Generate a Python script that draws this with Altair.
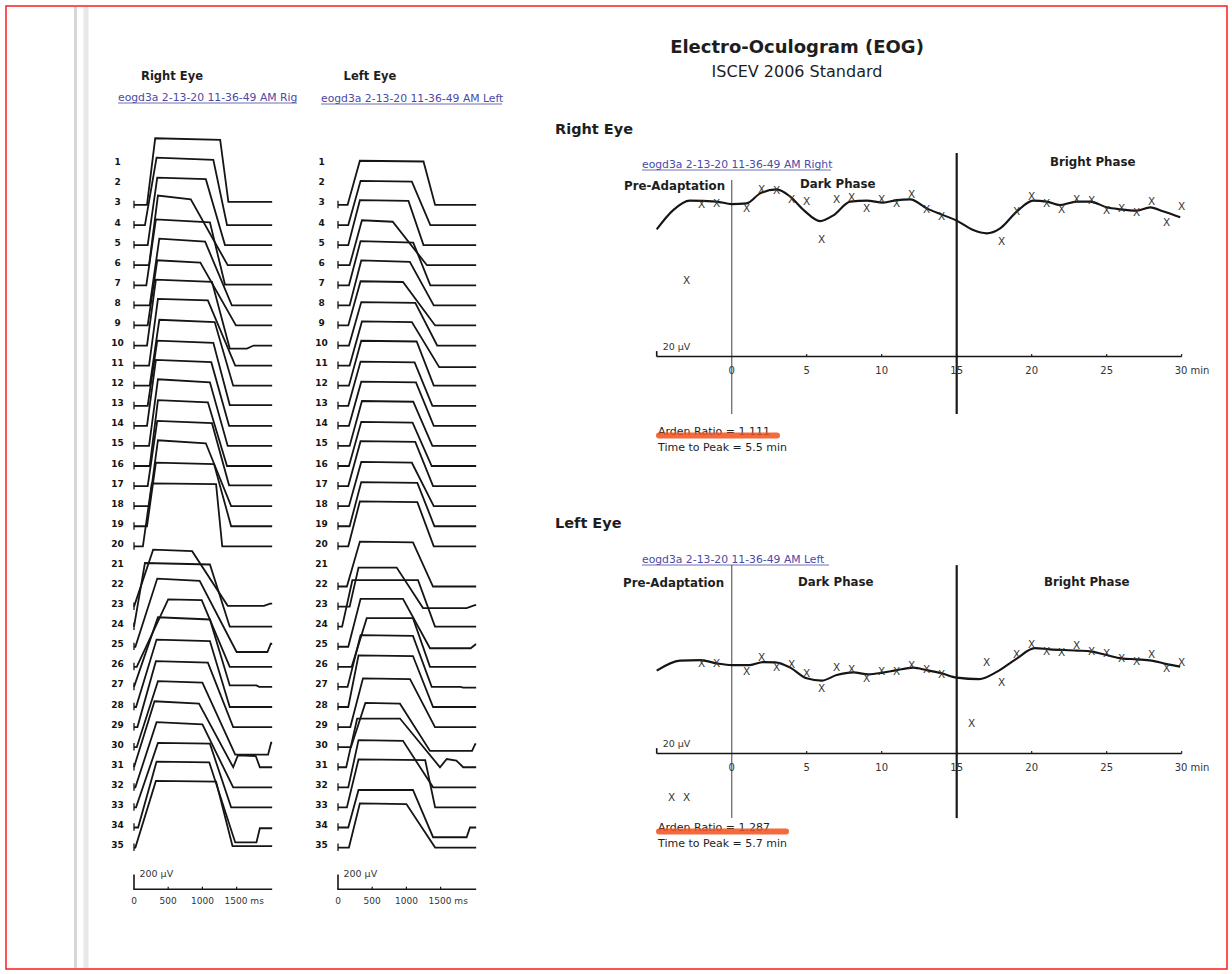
import altair as alt
import pandas as pd

FONT = "DejaVu Sans"
INK = "#151515"
LINK = "#4a4aa6"

# ---------------- Saccade traces (time in ms, amplitude in µV above row baseline) ----------------
T_END = 2020
R_ROWS = list(range(3, 21)) + list(range(23, 36))
R_R0 = [190,160,200,220,180,230,200,190,220,230,200,190,220,230,200,220,190,130, 0,0,20,40,0,30,50,40,0,20,30,60,20]
R_R1 = [310,330,340,350,320,370,340,320,350,370,340,320,350,350,340,350,320,260, 280,160,340,500,350,330,320,350,300,330,350,330,320]
R_H1 = [890,900,900,930,880,890,870,880,890,880,870,880,890,880,870,880,850,840, 760,850,910,900,930,900,880,880,880,870,860,880,890]
R_H2 = [870,870,880,880,840,850,840,850,870,850,840,850,850,850,840,840,830,830, 740,830,880,890,900,880,860,860,850,840,850,870,880]
R_F0 = [1260,1160,1050,830,1110,1040,970,1140,1080,1180,1160,1130,1110,1080,1140,1050,1170,1200, 850,1110,960,990,1110,1110,1080,1000,950,1000,1110,1100,1200]
R_F1 = [1380,1360,1330,1370,1330,1430,1490,1400,1480,1450,1400,1390,1370,1360,1390,1420,1420,1290, 1370,1400,1500,1400,1400,1400,1450,1480,1450,1450,1420,1480,1440]
R_END = [40,0,0,0,10,0,0,-40,0,0,10,0,0,0,10,0,0,0, 10,0,-70,0,20,0,0,-100,0,0,0,-200,20]
R_TAIL = {10: [(1650, -40), (1750, 0)], 23: [(1900, 10), (1990, 40)], 25: [(1950, -70), (2000, 40)],
          27: [(1790, 20), (1830, 0)], 30: [(1960, -100), (2005, 60)],
          31: [(1520, 160), (1780, 150), (1840, 0)], 34: [(1790, -200), (1840, -10)]}

L_ROWS = list(range(3, 21)) + list(range(22, 36))
L_R0 = [140,150,150,170,160,170,150,160,170,160,150,160,170,160,150,160,170,150, 130,170,60,150,200,140,150,180,190,120,150,130,150,160]
L_R1 = [320,330,320,350,330,340,330,340,350,340,330,340,350,340,330,340,340,320, 320,300,210,330,420,330,300,365,400,280,300,300,300,320]
L_H1 = [590,590,600,600,590,600,590,580,590,600,590,590,600,590,600,590,590,600, 600,520,620,640,650,690,690,650,590,650,630,640,500,590]
L_H2 = [580,580,590,580,570,580,580,570,580,590,580,580,590,580,590,580,580,590, 590,520,620,640,650,680,680,640,580,650,620,630,500,580]
L_F0 = [1250,1080,1030,800,1100,1050,950,1130,1080,1150,1120,1140,1100,1090,1130,1080,1160,1160, 1096,858,1170,950,1096,1096,1096,1053,906,906,950,1275,1096,1000]
L_F1 = [1420,1350,1250,1300,1350,1400,1420,1450,1480,1400,1380,1400,1380,1370,1390,1400,1410,1400, 1389,1243,1418,1345,1345,1370,1390,1418,1345,1491,1390,1420,1390,1420]
L_END = [0,0,0,0,0,0,0,0,-20,0,0,0,0,0,0,0,0,0, 0,-20,0,-20,0,0,0,0,-50,0,0,0,-130,0]
L_TAIL = {23: [(1880, -20), (2000, 20)], 25: [(1940, -20), (2010, 30)], 27: [(1790, 0), (1830, -10)],
          30: [(1960, -50), (2005, 40)], 31: [(1590, 110), (1730, 90), (1830, 0)],
          34: [(1880, -130), (1930, 0)]}

ROW_LABELS = list(range(1, 36))
TRACE_TICKS = [0, 500, 1000]
TRACE_LAST_TICK = [1500]

# ---------------- EOG (time in min, amplitude in µV) ----------------
R_CURVE_T = [-5,-3.9,-2.8,-1.0,0,1,1.9,3,3.9,4.8,5.9,6.8,7.9,9,10.1,11,11.9,13,14.1,15,16.1,17,17.9,19,20.1,21,21.9,23,23.9,25,25.9,27,27.9,28.8,29.9]
R_CURVE_V = [509,586,624,620,610,613,653,669,640,586,542,566,620,624,616,626,629,593,566,544,506,493,513,580,624,620,606,620,620,597,589,584,597,580,557]
R_X_T = [-3,-2,-1,1,2,3,4,5,6,7,8,9,10,11,12,13,14,18,19,20,21,22,23,24,25,26,27,28,29,30]
R_X_V = [302,606,610,589,666,664,626,620,466,626,633,589,626,610,646,586,560,458,580,640,610,586,626,624,584,589,573,620,533,597]

L_CURVE_T = [-5,-3.45,-2.1,-1,0,1.2,2.1,2.9,3.9,5,6,7,8.1,9.1,10.1,11,12.1,13,14,15,16.5,17.7,19,20.2,21.2,23,24,25,26,27,28,29,29.9]
L_CURVE_V = [332,372,374,361,354,354,366,365,344,301,292,314,325,317,324,334,344,334,321,304,298,328,380,422,417,412,408,394,381,377,372,358,348]
L_X_T = [-4,-3,-2,-1,1,2,3,4,5,6,7,8,9,10,11,12,13,14,16,17,18,19,20,21,22,23,24,25,26,27,28,29,30]
L_X_V = [-178,-178,358,358,325,381,341,354,318,258,341,334,297,328,328,352,334,314,118,364,282,394,434,405,401,430,405,397,377,365,394,337,361]

EOG_TICKS = [0, 5, 10, 15, 20, 25]
EOG_LAST_TICK = [30]
PHASE_BOUNDS = [0, 15]


def trace_frame(rows, r0, r1, h1, h2, f0, f1, end, tails):
    recs = []
    for i, row in enumerate(rows):
        pts = [(0, 0), (r0[i], 0), (r1[i], h1[i]), (f0[i], h2[i]), (f1[i], end[i])]
        pts += tails.get(row, [])
        pts.append((T_END, pts[-1][1]))
        for k, (t, v) in enumerate(pts):
            recs.append({"row": row, "k": k, "t": t, "v": v})
    return pd.DataFrame(recs)


TRACE_Y = alt.Scale(domain=[-9600, 1200], range=[864.05, 54.8], nice=False, zero=False)


def trace_layers(df, rows, x0, label_x):
    xs = alt.Scale(domain=[0, 2000], range=[x0, x0 + 136.8], nice=False, zero=False)
    lines = alt.Chart(df).transform_calculate(yv="datum.v - datum.row * 268").mark_line(
        color=INK, strokeWidth=1.8).encode(
        x=alt.X("t:Q", scale=xs, axis=None),
        y=alt.Y("yv:Q", scale=TRACE_Y, axis=None),
        detail="row:N", order="k:Q")
    starts = alt.Chart(pd.DataFrame({"row": rows, "t": [0] * len(rows)})).transform_calculate(
        ya="-datum.row * 268 - 45", yb="-datum.row * 268 + 55").mark_rule(
        color=INK, strokeWidth=1.3).encode(
        x=alt.X("t:Q", scale=xs, axis=None),
        y=alt.Y("ya:Q", scale=TRACE_Y, axis=None), y2="yb:Q")
    labels = alt.Chart(pd.DataFrame({"row": ROW_LABELS})).transform_calculate(
        yv="-datum.row * 268 + 33").mark_text(
        font=FONT, fontSize=9, fontWeight="bold", color=INK, align="center", baseline="middle").encode(
        x=alt.value(label_x),
        y=alt.Y("yv:Q", scale=TRACE_Y, axis=None), text="row:N")
    axis = alt.Chart(pd.DataFrame({"a": [-10], "b": [T_END]})).mark_rule(
        color=INK, strokeWidth=1.6).encode(
        x=alt.X("a:Q", scale=xs, axis=None), x2="b:Q", y=alt.value(889.3))
    ticks = alt.Chart(pd.DataFrame({"t": TRACE_TICKS[1:] + TRACE_LAST_TICK})).mark_rule(
        color=INK, strokeWidth=1.2).encode(
        x=alt.X("t:Q", scale=xs, axis=None), y=alt.value(886.8), y2=alt.value(889.3))
    tlab = alt.Chart(pd.DataFrame({"t": TRACE_TICKS, "lab": [str(v) for v in TRACE_TICKS]})).mark_text(
        font=FONT, fontSize=9, color="#333", align="center", baseline="middle").encode(
        x=alt.X("t:Q", scale=xs, axis=None), y=alt.value(901), text="lab:N")
    tlast = alt.Chart(pd.DataFrame({"t": TRACE_LAST_TICK, "lab": ["%d ms" % v for v in TRACE_LAST_TICK]})).mark_text(
        font=FONT, fontSize=9, color="#333", align="left", baseline="middle", dx=-12).encode(
        x=alt.X("t:Q", scale=xs, axis=None), y=alt.value(901), text="lab:N")
    bar = alt.Chart(pd.DataFrame({"t": [0]})).mark_rule(color=INK, strokeWidth=1.6).encode(
        x=alt.X("t:Q", scale=xs, axis=None), y=alt.value(874.5), y2=alt.value(889.3))
    bartxt = alt.Chart(pd.DataFrame({"t": [80], "lab": ["200 µV"]})).mark_text(
        font=FONT, fontSize=9.5, color="#333", align="left", baseline="middle").encode(
        x=alt.X("t:Q", scale=xs, axis=None), y=alt.value(874), text="lab:N")
    return [lines, starts, labels, axis, ticks, tlab, tlast, bar, bartxt]


def eog_layers(ct, cv, xt, xv, axis_px, line_ranges):
    xs = alt.Scale(domain=[-5, 30], range=[656.7, 1181.7], nice=False, zero=False)
    ys = alt.Scale(domain=[0, 800], range=[axis_px, axis_px - 200], nice=False, zero=False)
    X = alt.X("t:Q", scale=xs, axis=None)
    vl = pd.DataFrame({"t": PHASE_BOUNDS, "lo": [r[0] for r in line_ranges], "hi": [r[1] for r in line_ranges],
                       "w": [1.4, 2.2], "c": ["#777777", "#1a1a1a"]})
    vlines = alt.Chart(vl).mark_rule().encode(
        x=X, y=alt.Y("lo:Q", scale=ys, axis=None), y2="hi:Q",
        strokeWidth=alt.StrokeWidth("w:Q", scale=None), color=alt.Color("c:N", scale=None))
    curve = alt.Chart(pd.DataFrame({"t": ct, "v": cv})).mark_line(
        interpolate="monotone", color=INK, strokeWidth=2.1).encode(
        x=X, y=alt.Y("v:Q", scale=ys, axis=None))
    marks = alt.Chart(pd.DataFrame({"t": xt, "v": xv})).mark_text(
        text="X", font=FONT, fontSize=10.5, color="#333", align="center", baseline="middle").encode(
        x=X, y=alt.Y("v:Q", scale=ys, axis=None))
    axis = alt.Chart(pd.DataFrame({"a": [-5], "b": [30], "v": [0]})).mark_rule(
        color=INK, strokeWidth=1.5).encode(x=alt.X("a:Q", scale=xs, axis=None), x2="b:Q",
                                             y=alt.Y("v:Q", scale=ys, axis=None))
    ticks = alt.Chart(pd.DataFrame({"t": EOG_TICKS[1:] + EOG_LAST_TICK, "a": 0, "b": 10})).mark_rule(
        color=INK, strokeWidth=1.1).encode(x=X, y=alt.Y("a:Q", scale=ys, axis=None), y2="b:Q")
    labs = alt.Chart(pd.DataFrame({"t": EOG_TICKS, "lab": [str(v) for v in EOG_TICKS], "v": -56})).mark_text(
        font=FONT, fontSize=10, color="#333", align="center", baseline="middle").encode(
        x=X, y=alt.Y("v:Q", scale=ys, axis=None), text="lab:N")
    last = alt.Chart(pd.DataFrame({"t": EOG_LAST_TICK, "lab": ["%d min" % v for v in EOG_LAST_TICK], "v": -56})).mark_text(
        font=FONT, fontSize=10, color="#333", align="left", baseline="middle", dx=-7).encode(
        x=X, y=alt.Y("v:Q", scale=ys, axis=None), text="lab:N")
    bar = alt.Chart(pd.DataFrame({"t": [-5], "a": [0], "b": [22]})).mark_rule(
        color=INK, strokeWidth=1.6).encode(x=X, y=alt.Y("a:Q", scale=ys, axis=None), y2="b:Q")
    bartxt = alt.Chart(pd.DataFrame({"t": [-4.6], "v": [38], "lab": ["20 µV"]})).mark_text(
        font=FONT, fontSize=9.5, color="#333", align="left", baseline="middle").encode(
        x=X, y=alt.Y("v:Q", scale=ys, axis=None), text="lab:N")
    return [vlines, curve, marks, axis, ticks, labs, last, bar, bartxt]


def text_layer(items, size, weight="normal", color="#1e1e1e", align="left"):
    df = pd.DataFrame(items, columns=["text", "px", "py"])
    return alt.Chart(df).mark_text(font=FONT, fontSize=size, fontWeight=weight, color=color,
                                   align=align, baseline="middle").encode(
        x=alt.X("px:Q", scale=None), y=alt.Y("py:Q", scale=None), text="text:N")


one = pd.DataFrame({"a": [0]})

frame = alt.Chart(one).mark_rect(fill=None, stroke="#ff1a1a", strokeWidth=1.5).encode(
    x=alt.value(6), x2=alt.value(1227), y=alt.value(6), y2=alt.value(969))
gutter1 = alt.Chart(one).mark_rule(color="#d6d6d6", strokeWidth=3).encode(
    x=alt.value(75.5), y=alt.value(7), y2=alt.value(968))
gutter2 = alt.Chart(one).mark_rule(color="#e8e8e8", strokeWidth=5).encode(
    x=alt.value(86), y=alt.value(7), y2=alt.value(968))

underlines = pd.DataFrame({"x1": [118, 321, 642, 642], "x2": [297, 502, 831, 829],
                           "y": [103, 104, 170, 565]})
ul = alt.Chart(underlines).mark_rule(color=LINK, strokeWidth=0.8).encode(
    x=alt.X("x1:Q", scale=None), x2="x2:Q", y=alt.Y("y:Q", scale=None))

highlights = pd.DataFrame({"x1": [659, 659], "x2": [777, 786], "y": [435.5, 831.5]})
hl = alt.Chart(highlights).mark_rule(color="#f2501c", strokeWidth=6, strokeCap="round", opacity=0.85).encode(
    x=alt.X("x1:Q", scale=None), x2="x2:Q", y=alt.Y("y:Q", scale=None))

layers = [frame, gutter1, gutter2]
layers += trace_layers(trace_frame(R_ROWS, R_R0, R_R1, R_H1, R_H2, R_F0, R_F1, R_END, R_TAIL), R_ROWS, 134, 117.5)
layers += trace_layers(trace_frame(L_ROWS, L_R0, L_R1, L_H1, L_H2, L_F0, L_F1, L_END, L_TAIL), L_ROWS, 338, 321.5)
layers += eog_layers(R_CURVE_T, R_CURVE_V, R_X_T, R_X_V, 356.6, [(-230, 706), (-230, 814)])
layers += eog_layers(L_CURVE_T, L_CURVE_V, L_X_T, L_X_V, 753.6, [(-258, 754), (-258, 754)])

layers += [
    text_layer([("Electro-Oculogram (EOG)", 797, 48)], 18, "bold", align="center"),
    text_layer([("ISCEV 2006 Standard", 797, 72)], 16, align="center"),
    text_layer([("Right Eye", 555, 130), ("Left Eye", 555, 524)], 14.5, "bold"),
    text_layer([("Right Eye", 172, 77), ("Left Eye", 370, 77)], 11.5, "bold", align="center"),
    text_layer([("eogd3a 2-13-20 11-36-49 AM Rig", 118, 97.5), ("eogd3a 2-13-20 11-36-49 AM Left", 321, 98.5),
                ("eogd3a 2-13-20 11-36-49 AM Right", 642, 164.5), ("eogd3a 2-13-20 11-36-49 AM Left", 642, 559.5)],
               10.8, color=LINK),
    text_layer([("Pre-Adaptation", 624, 186), ("Dark Phase", 800, 183.5), ("Bright Phase", 1050, 162),
                ("Pre-Adaptation", 623, 583), ("Dark Phase", 798, 582), ("Bright Phase", 1044, 582)],
               11.8, "bold"),
    text_layer([("Arden Ratio = 1.111", 658, 432), ("Time to Peak = 5.5 min", 658, 448),
                ("Arden Ratio = 1.287", 658, 828), ("Time to Peak = 5.7 min", 658, 844)], 11),
    ul, hl,
]

chart = alt.layer(*layers).resolve_scale(x="independent", y="independent").properties(
    width=1232, height=974, padding=0, autosize="none", background="white"
).configure_view(stroke=None)

chart.save("out.html", embed_options={"renderer": "svg", "actions": False})
